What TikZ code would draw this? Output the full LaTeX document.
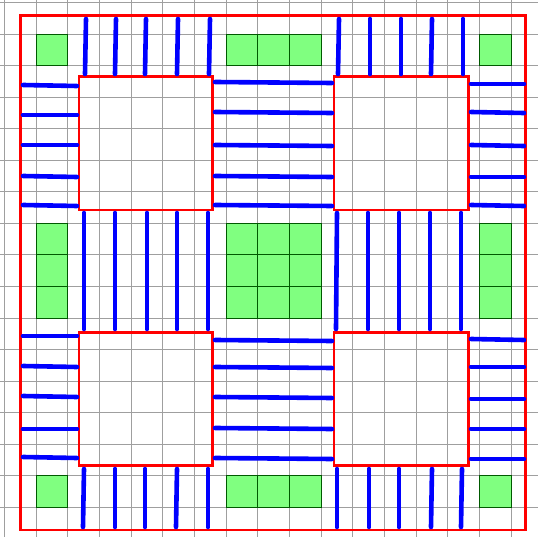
\documentclass[tikz,border=0pt]{standalone}
\usepackage{tikz}

\begin{document}
\begin{tikzpicture}[
    x=1pt, y=-1pt,
    gridline/.style={gray!75, line width=0.7pt},
    cell/.style={fill=green!50, draw=green!35!black, line width=0.7pt},
    wall/.style={draw=red, line width=2.6pt},
    rung/.style={blue, line width=4.6pt, line cap=round}
]
\useasboundingbox (0,0) rectangle (538,537);

% background grid
\foreach \i in {0,...,16}
    \draw[gridline] ({4.3+31.67*\i},0) -- ({4.3+31.67*\i},537);
\foreach \j in {0,...,16}
    \draw[gridline] (0,{2.3+31.56*\j}) -- (538,{2.3+31.56*\j});

% green cells at the crossings
\foreach \i/\j in {1/1,7/1,8/1,9/1,15/1,
                   1/7,1/8,1/9,7/7,8/7,9/7,7/8,8/8,9/8,7/9,8/9,9/9,15/7,15/8,15/9,
                   1/15,7/15,8/15,9/15,15/15}
    \draw[cell] ({4.3+31.67*\i},{2.3+31.56*\j}) rectangle ++(31.67,31.56);

% outer wall and the four blocks
\draw[wall] (20.7,15.7) rectangle (525.7,530);
\draw[wall] (79,76.7) rectangle (212.7,210);
\draw[wall] (334,76.7) rectangle (468.3,210);
\draw[wall] (79,332.3) rectangle (212.7,465.7);
\draw[wall] (334,332.3) rectangle (468.3,465.7);

% vertical rungs: top strip
\foreach \xa/\xb in {86/85,116/115,146/145,178/177,210/209,
                     339/338,370/370,401/401,432/431,463/463}
    \draw[rung] (\xa,19) -- (\xb,74);
% vertical rungs: middle strip
\foreach \xa/\xb in {84/84,115/115,147/147,177/177,208/208,
                     337/336,368/368,399/399,430/430,461/461}
    \draw[rung] (\xa,213) -- (\xb,329);
% vertical rungs: bottom strip
\foreach \xa/\xb in {84/83,115/115,145/145,177/176,208/208,
                     337/337,369/369,399/399,432/431,462/461}
    \draw[rung] (\xa,469) -- (\xb,527);

% horizontal rungs: left strip
\foreach \ya/\yb in {85/86,115/115,145/145,176/177,205/206,
                     336/336,366/367,396/397,429/429,457/458}
    \draw[rung] (23,\ya) -- (77,\yb);
% horizontal rungs: middle strip
\foreach \ya/\yb in {82/83,112/113,145/146,176/177,205/206,
                     340/341,367/368,397/398,428/429,458/459}
    \draw[rung] (215,\ya) -- (332,\yb);
% horizontal rungs: right strip
\foreach \ya/\yb in {84/84,112/113,145/146,177/177,205/206,
                     339/340,367/367,399/399,429/429,459/459}
    \draw[rung] (471,\ya) -- (524,\yb);

\end{tikzpicture}
\end{document}
